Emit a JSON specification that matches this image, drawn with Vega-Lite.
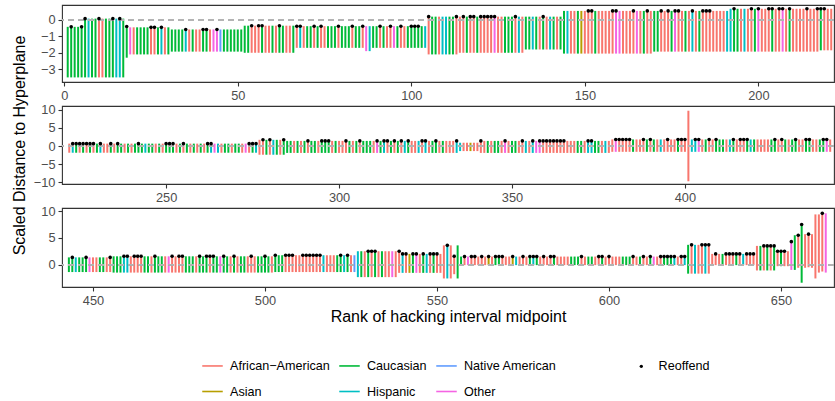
{
"$schema": "https://vega.github.io/schema/vega-lite/v6.json",
"background": "white",
"padding": {"left": 10, "top": 4, "right": 0, "bottom": 0},
"spacing": 24,
"bounds": "flush",
"data": {"values": [
{"r":1,"l":-3.5,"h":-0.42,"g":"C"},{"r":2,"l":-3.5,"h":-0.42,"g":"C","o":1},{"r":3,"l":-3.5,"h":-0.42,"g":"C"},{"r":4,"l":-3.5,"h":-0.42,"g":"C"},{"r":5,"l":-3.5,"h":-0.42,"g":"C","o":1},
{"r":6,"l":-3.5,"h":0.08,"g":"C","o":1},{"r":7,"l":-3.5,"h":0.08,"g":"H"},{"r":8,"l":-3.5,"h":0.08,"g":"C"},{"r":9,"l":-3.5,"h":0.08,"g":"C"},{"r":10,"l":-3.5,"h":0.08,"g":"A","o":1},
{"r":11,"l":-3.5,"h":0.08,"g":"A"},{"r":12,"l":-3.5,"h":0.08,"g":"C"},{"r":13,"l":-3.5,"h":0.08,"g":"C"},{"r":14,"l":-3.5,"h":0.08,"g":"C","o":1},{"r":15,"l":-3.5,"h":0.08,"g":"H"},
{"r":16,"l":-3.5,"h":0.08,"g":"H","o":1},{"r":17,"l":-3.5,"h":0.08,"g":"C"},{"r":18,"l":-2.3,"h":-0.4,"g":"C","o":1},{"r":19,"l":-2.1,"h":-0.45,"g":"O"},{"r":20,"l":-2.1,"h":-0.45,"g":"A"},
{"r":21,"l":-2.1,"h":-0.45,"g":"C"},{"r":22,"l":-2.1,"h":-0.45,"g":"C"},{"r":23,"l":-2.1,"h":-0.45,"g":"C"},{"r":24,"l":-2.1,"h":-0.45,"g":"C"},{"r":25,"l":-2.1,"h":-0.45,"g":"A","o":1},
{"r":26,"l":-2.1,"h":-0.45,"g":"A","o":1},{"r":27,"l":-2.1,"h":-0.45,"g":"C"},{"r":28,"l":-2.1,"h":-0.45,"g":"H","o":1},{"r":29,"l":-2.1,"h":-0.45,"g":"A"},{"r":30,"l":-2.1,"h":-0.45,"g":"C"},
{"r":31,"l":-1.93,"h":-0.58,"g":"C"},{"r":32,"l":-1.93,"h":-0.58,"g":"C"},{"r":33,"l":-1.93,"h":-0.58,"g":"C"},{"r":34,"l":-1.93,"h":-0.58,"g":"C"},{"r":35,"l":-1.93,"h":-0.58,"g":"H","o":1},
{"r":36,"l":-1.93,"h":-0.58,"g":"A"},{"r":37,"l":-1.93,"h":-0.58,"g":"C"},{"r":38,"l":-1.93,"h":-0.58,"g":"A"},{"r":39,"l":-1.93,"h":-0.58,"g":"A"},{"r":40,"l":-1.93,"h":-0.58,"g":"C","o":1},
{"r":41,"l":-1.93,"h":-0.58,"g":"C","o":1},{"r":42,"l":-1.93,"h":-0.58,"g":"A"},{"r":43,"l":-1.93,"h":-0.58,"g":"O"},{"r":44,"l":-1.93,"h":-0.58,"g":"O","o":1},{"r":45,"l":-1.93,"h":-0.58,"g":"N"},
{"r":46,"l":-1.93,"h":-0.58,"g":"C"},{"r":47,"l":-1.93,"h":-0.58,"g":"C"},{"r":48,"l":-1.93,"h":-0.58,"g":"C"},{"r":49,"l":-1.93,"h":-0.58,"g":"C"},{"r":50,"l":-1.93,"h":-0.58,"g":"C"},
{"r":51,"l":-1.93,"h":-0.58,"g":"C"},{"r":52,"l":-2.0,"h":-0.35,"g":"C"},{"r":53,"l":-2.0,"h":-0.35,"g":"C"},{"r":54,"l":-2.0,"h":-0.35,"g":"A","o":1},{"r":55,"l":-2.0,"h":-0.35,"g":"A"},
{"r":56,"l":-2.0,"h":-0.35,"g":"A","o":1},{"r":57,"l":-2.0,"h":-0.35,"g":"C","o":1},{"r":58,"l":-2.0,"h":-0.35,"g":"A"},{"r":59,"l":-2.0,"h":-0.35,"g":"A"},{"r":60,"l":-2.0,"h":-0.35,"g":"C"},
{"r":61,"l":-2.0,"h":-0.35,"g":"A"},{"r":62,"l":-2.0,"h":-0.35,"g":"C","o":1},{"r":63,"l":-2.0,"h":-0.35,"g":"C"},{"r":64,"l":-2.0,"h":-0.35,"g":"A"},{"r":65,"l":-2.0,"h":-0.35,"g":"A"},
{"r":66,"l":-2.0,"h":-0.35,"g":"C"},{"r":67,"l":-1.7,"h":-0.38,"g":"A","o":1},{"r":68,"l":-1.7,"h":-0.38,"g":"H","o":1},{"r":69,"l":-1.7,"h":-0.38,"g":"A"},{"r":70,"l":-1.7,"h":-0.38,"g":"C"},
{"r":71,"l":-1.7,"h":-0.38,"g":"C"},{"r":72,"l":-1.7,"h":-0.38,"g":"A","o":1},{"r":73,"l":-1.7,"h":-0.38,"g":"C"},{"r":74,"l":-1.7,"h":-0.38,"g":"A","o":1},{"r":75,"l":-1.7,"h":-0.38,"g":"A"},
{"r":76,"l":-1.7,"h":-0.38,"g":"C"},{"r":77,"l":-1.7,"h":-0.38,"g":"C"},{"r":78,"l":-1.7,"h":-0.38,"g":"C"},{"r":79,"l":-1.7,"h":-0.38,"g":"A","o":1},{"r":80,"l":-1.7,"h":-0.38,"g":"C"},
{"r":81,"l":-1.7,"h":-0.38,"g":"C"},{"r":82,"l":-1.7,"h":-0.38,"g":"C"},{"r":83,"l":-1.7,"h":-0.38,"g":"A","o":1},{"r":84,"l":-1.7,"h":-0.38,"g":"C"},{"r":85,"l":-1.7,"h":-0.38,"g":"C"},
{"r":86,"l":-1.7,"h":-0.38,"g":"A","o":1},{"r":87,"l":-1.9,"h":-0.38,"g":"O"},{"r":88,"l":-1.9,"h":-0.38,"g":"H"},{"r":89,"l":-1.7,"h":-0.38,"g":"C"},{"r":90,"l":-1.7,"h":-0.38,"g":"C"},
{"r":91,"l":-1.7,"h":-0.38,"g":"A","o":1},{"r":92,"l":-1.7,"h":-0.38,"g":"C"},{"r":93,"l":-1.7,"h":-0.38,"g":"A"},{"r":94,"l":-1.7,"h":-0.38,"g":"A","o":1},{"r":95,"l":-1.7,"h":-0.38,"g":"O"},
{"r":96,"l":-1.7,"h":-0.38,"g":"C"},{"r":97,"l":-1.7,"h":-0.38,"g":"A","o":1},{"r":98,"l":-1.7,"h":-0.38,"g":"A"},{"r":99,"l":-1.7,"h":-0.38,"g":"C"},{"r":100,"l":-1.7,"h":-0.38,"g":"C","o":1},
{"r":101,"l":-1.7,"h":-0.38,"g":"C","o":1},{"r":102,"l":-1.7,"h":-0.38,"g":"C","o":1},{"r":103,"l":-1.7,"h":-0.38,"g":"C"},{"r":104,"l":-1.7,"h":-0.38,"g":"H"},{"r":105,"l":-2.1,"h":0.2,"g":"A","o":1},
{"r":106,"l":-2.1,"h":0.2,"g":"C"},{"r":107,"l":-2.1,"h":0.2,"g":"C"},{"r":108,"l":-2.1,"h":0.2,"g":"A"},{"r":109,"l":-2.1,"h":0.2,"g":"H"},{"r":110,"l":-2.1,"h":0.2,"g":"H"},
{"r":111,"l":-2.1,"h":0.2,"g":"C"},{"r":112,"l":-2.1,"h":0.2,"g":"C"},{"r":113,"l":-2.1,"h":0.2,"g":"A","o":1},{"r":114,"l":-2.0,"h":0.2,"g":"A"},{"r":115,"l":-2.0,"h":0.2,"g":"A","o":1},
{"r":116,"l":-2.0,"h":0.2,"g":"C"},{"r":117,"l":-2.0,"h":0.2,"g":"A","o":1},{"r":118,"l":-2.0,"h":0.2,"g":"A","o":1},{"r":119,"l":-2.0,"h":0.2,"g":"C"},{"r":120,"l":-2.0,"h":0.2,"g":"A","o":1},
{"r":121,"l":-2.0,"h":0.2,"g":"A","o":1},{"r":122,"l":-2.0,"h":0.2,"g":"A","o":1},{"r":123,"l":-2.0,"h":0.2,"g":"A","o":1},{"r":124,"l":-2.0,"h":0.2,"g":"O","o":1},{"r":125,"l":-2.0,"h":0.2,"g":"A"},
{"r":126,"l":-2.0,"h":0.2,"g":"A"},{"r":127,"l":-2.0,"h":0.2,"g":"C"},{"r":128,"l":-2.0,"h":0.2,"g":"C"},{"r":129,"l":-2.0,"h":0.2,"g":"C"},{"r":130,"l":-2.0,"h":0.2,"g":"A","o":1},
{"r":131,"l":-2.0,"h":0.2,"g":"H"},{"r":132,"l":-2.0,"h":0.2,"g":"A"},{"r":133,"l":-1.8,"h":0.2,"g":"C"},{"r":134,"l":-1.8,"h":0.2,"g":"C"},{"r":135,"l":-1.8,"h":0.2,"g":"H"},
{"r":136,"l":-1.8,"h":0.2,"g":"C"},{"r":137,"l":-1.8,"h":0.2,"g":"A"},{"r":138,"l":-1.8,"h":0.2,"g":"C","o":1},{"r":139,"l":-1.8,"h":0.2,"g":"A"},{"r":140,"l":-1.8,"h":0.2,"g":"H"},
{"r":141,"l":-1.8,"h":0.2,"g":"C"},{"r":142,"l":-1.8,"h":0.2,"g":"A"},{"r":143,"l":-1.8,"h":0.2,"g":"C"},{"r":144,"l":-2.05,"h":0.55,"g":"C"},{"r":145,"l":-2.05,"h":0.55,"g":"H"},
{"r":146,"l":-2.05,"h":0.55,"g":"A"},{"r":147,"l":-2.05,"h":0.55,"g":"A"},{"r":148,"l":-2.05,"h":0.55,"g":"C"},{"r":149,"l":-2.05,"h":0.55,"g":"S"},{"r":150,"l":-2.05,"h":0.55,"g":"A"},
{"r":151,"l":-2.05,"h":0.55,"g":"A","o":1},{"r":152,"l":-2.05,"h":0.55,"g":"A","o":1},{"r":153,"l":-2.05,"h":0.55,"g":"C"},{"r":154,"l":-2.05,"h":0.55,"g":"A"},{"r":155,"l":-2.05,"h":0.55,"g":"A"},
{"r":156,"l":-2.05,"h":0.55,"g":"A"},{"r":157,"l":-2.05,"h":0.55,"g":"A"},{"r":158,"l":-2.05,"h":0.55,"g":"A","o":1},{"r":159,"l":-2.05,"h":0.55,"g":"O","o":1},{"r":160,"l":-2.05,"h":0.55,"g":"O"},
{"r":161,"l":-2.05,"h":0.55,"g":"A"},{"r":162,"l":-2.05,"h":0.55,"g":"A"},{"r":163,"l":-2.05,"h":0.55,"g":"A"},{"r":164,"l":-2.05,"h":0.55,"g":"A","o":1},{"r":165,"l":-2.05,"h":0.55,"g":"O"},
{"r":166,"l":-2.05,"h":0.55,"g":"A"},{"r":167,"l":-2.05,"h":0.55,"g":"C"},{"r":168,"l":-2.05,"h":0.55,"g":"A","o":1},{"r":169,"l":-2.05,"h":0.55,"g":"A"},{"r":170,"l":-1.93,"h":0.55,"g":"C"},
{"r":171,"l":-1.93,"h":0.55,"g":"C"},{"r":172,"l":-1.93,"h":0.55,"g":"A","o":1},{"r":173,"l":-1.93,"h":0.55,"g":"A"},{"r":174,"l":-1.93,"h":0.55,"g":"A","o":1},{"r":175,"l":-1.93,"h":0.55,"g":"C"},
{"r":176,"l":-1.93,"h":0.55,"g":"O","o":1},{"r":177,"l":-1.93,"h":0.55,"g":"A","o":1},{"r":178,"l":-1.93,"h":0.55,"g":"A"},{"r":179,"l":-1.93,"h":0.55,"g":"C"},{"r":180,"l":-1.93,"h":0.55,"g":"A"},
{"r":181,"l":-1.93,"h":0.55,"g":"H","o":1},{"r":182,"l":-1.93,"h":0.55,"g":"A"},{"r":183,"l":-1.93,"h":0.55,"g":"C"},{"r":184,"l":-1.93,"h":0.55,"g":"A","o":1},{"r":185,"l":-1.93,"h":0.55,"g":"A","o":1},
{"r":186,"l":-1.93,"h":0.55,"g":"A","o":1},{"r":187,"l":-1.93,"h":0.55,"g":"A"},{"r":188,"l":-1.93,"h":0.55,"g":"A"},{"r":189,"l":-1.93,"h":0.55,"g":"A"},{"r":190,"l":-1.93,"h":0.55,"g":"A"},
{"r":191,"l":-1.93,"h":0.55,"g":"H"},{"r":192,"l":-1.93,"h":0.68,"g":"H"},{"r":193,"l":-1.93,"h":0.68,"g":"C","o":1},{"r":194,"l":-1.93,"h":0.68,"g":"C"},{"r":195,"l":-1.93,"h":0.68,"g":"A"},
{"r":196,"l":-1.93,"h":0.68,"g":"H"},{"r":197,"l":-1.93,"h":0.68,"g":"A"},{"r":198,"l":-1.93,"h":0.68,"g":"A","o":1},{"r":199,"l":-1.93,"h":0.68,"g":"C"},{"r":200,"l":-1.93,"h":0.68,"g":"O","o":1},
{"r":201,"l":-1.93,"h":0.68,"g":"A"},{"r":202,"l":-1.93,"h":0.68,"g":"A"},{"r":203,"l":-1.93,"h":0.68,"g":"A","o":1},{"r":204,"l":-1.93,"h":0.68,"g":"C","o":1},{"r":205,"l":-1.93,"h":0.68,"g":"A"},
{"r":206,"l":-1.93,"h":0.68,"g":"A","o":1},{"r":207,"l":-1.93,"h":0.68,"g":"O","o":1},{"r":208,"l":-1.93,"h":0.68,"g":"A"},{"r":209,"l":-1.93,"h":0.68,"g":"C","o":1},{"r":210,"l":-1.93,"h":0.68,"g":"A"},
{"r":211,"l":-1.93,"h":0.68,"g":"A"},{"r":212,"l":-1.93,"h":0.68,"g":"A"},{"r":213,"l":-1.93,"h":0.68,"g":"A"},{"r":214,"l":-1.93,"h":0.68,"g":"A","o":1},{"r":215,"l":-1.93,"h":0.68,"g":"A"},
{"r":216,"l":-1.93,"h":0.68,"g":"A"},{"r":217,"l":-1.93,"h":0.68,"g":"A","o":1},{"r":218,"l":-1.85,"h":0.68,"g":"C","o":1},{"r":219,"l":-1.85,"h":0.68,"g":"A","o":1},{"r":220,"l":-1.85,"h":0.68,"g":"A"},
{"r":221,"l":-1.85,"h":0.68,"g":"A"},
{"r":222,"l":-1.85,"h":0.65,"g":"A"},{"r":223,"l":-1.85,"h":0.65,"g":"H","o":1},{"r":224,"l":-1.85,"h":0.65,"g":"C","o":1},{"r":225,"l":-1.85,"h":0.65,"g":"A","o":1},{"r":226,"l":-1.85,"h":0.65,"g":"C","o":1},
{"r":227,"l":-1.85,"h":0.65,"g":"A","o":1},{"r":228,"l":-1.85,"h":0.65,"g":"C","o":1},{"r":229,"l":-1.85,"h":0.65,"g":"A","o":1},{"r":230,"l":-1.85,"h":0.65,"g":"C"},{"r":231,"l":-1.85,"h":0.65,"g":"H","o":1},
{"r":232,"l":-1.85,"h":0.65,"g":"A"},{"r":233,"l":-1.85,"h":0.65,"g":"A"},{"r":234,"l":-1.85,"h":0.65,"g":"C","o":1},{"r":235,"l":-1.85,"h":0.65,"g":"A"},{"r":236,"l":-1.85,"h":0.65,"g":"C","o":1},
{"r":237,"l":-1.85,"h":0.65,"g":"C"},{"r":238,"l":-1.85,"h":0.65,"g":"A"},{"r":239,"l":-1.85,"h":0.65,"g":"C"},{"r":240,"l":-1.85,"h":0.65,"g":"A"},{"r":241,"l":-1.85,"h":0.65,"g":"C"},
{"r":242,"l":-1.85,"h":0.65,"g":"C","o":1},{"r":243,"l":-1.85,"h":0.65,"g":"C"},{"r":244,"l":-1.85,"h":0.65,"g":"H"},{"r":245,"l":-1.85,"h":0.65,"g":"C"},{"r":246,"l":-1.85,"h":0.65,"g":"C"},
{"r":247,"l":-1.85,"h":0.65,"g":"A"},{"r":248,"l":-1.85,"h":0.65,"g":"C"},{"r":249,"l":-1.85,"h":0.65,"g":"A"},{"r":250,"l":-1.85,"h":0.65,"g":"C","o":1},{"r":251,"l":-1.85,"h":0.65,"g":"C","o":1},
{"r":252,"l":-1.85,"h":0.65,"g":"C","o":1},{"r":253,"l":-1.85,"h":0.65,"g":"A"},{"r":254,"l":-1.85,"h":0.65,"g":"C"},{"r":255,"l":-1.85,"h":0.65,"g":"A","o":1},{"r":256,"l":-1.85,"h":0.65,"g":"C"},
{"r":257,"l":-1.85,"h":0.65,"g":"A"},{"r":258,"l":-1.85,"h":0.65,"g":"C"},{"r":259,"l":-1.85,"h":0.65,"g":"A"},{"r":260,"l":-1.85,"h":0.65,"g":"C"},{"r":261,"l":-1.85,"h":0.65,"g":"A"},
{"r":262,"l":-1.85,"h":0.65,"g":"C","o":1},{"r":263,"l":-1.85,"h":0.65,"g":"H","o":1},{"r":264,"l":-1.85,"h":0.65,"g":"O"},{"r":265,"l":-1.85,"h":0.65,"g":"H"},{"r":266,"l":-1.85,"h":0.65,"g":"A"},
{"r":267,"l":-1.85,"h":0.65,"g":"C"},{"r":268,"l":-1.85,"h":0.65,"g":"C"},{"r":269,"l":-1.85,"h":0.65,"g":"A"},{"r":270,"l":-1.85,"h":0.65,"g":"C"},{"r":271,"l":-1.85,"h":0.65,"g":"C"},
{"r":272,"l":-1.85,"h":0.65,"g":"A"},{"r":273,"l":-1.85,"h":0.65,"g":"O"},{"r":274,"l":-1.85,"h":0.65,"g":"A","o":1},{"r":275,"l":-1.85,"h":0.65,"g":"C","o":1},{"r":276,"l":-1.85,"h":0.65,"g":"H","o":1},
{"r":277,"l":-2.4,"h":1.7,"g":"A"},{"r":278,"l":-2.4,"h":1.7,"g":"A","o":1},{"r":279,"l":-2.4,"h":1.7,"g":"C"},{"r":280,"l":-2.4,"h":1.7,"g":"A","o":1},{"r":281,"l":-2.4,"h":1.7,"g":"H"},
{"r":282,"l":-2.4,"h":1.7,"g":"C"},{"r":283,"l":-2.4,"h":1.7,"g":"A"},{"r":284,"l":-2.4,"h":1.7,"g":"C","o":1},{"r":285,"l":-1.9,"h":1.4,"g":"C"},{"r":286,"l":-1.9,"h":1.4,"g":"C"},
{"r":287,"l":-1.9,"h":1.4,"g":"A"},{"r":288,"l":-1.9,"h":1.4,"g":"C"},{"r":289,"l":-1.9,"h":1.4,"g":"A"},{"r":290,"l":-1.9,"h":1.4,"g":"C"},{"r":291,"l":-1.9,"h":1.4,"g":"A","o":1},
{"r":292,"l":-1.9,"h":1.4,"g":"C"},{"r":293,"l":-1.9,"h":1.4,"g":"C"},{"r":294,"l":-1.9,"h":1.4,"g":"A"},{"r":295,"l":-1.9,"h":1.4,"g":"C","o":1},{"r":296,"l":-1.9,"h":1.4,"g":"C","o":1},
{"r":297,"l":-1.9,"h":1.4,"g":"C","o":1},{"r":298,"l":-1.9,"h":1.4,"g":"A"},{"r":299,"l":-1.9,"h":1.4,"g":"C"},{"r":300,"l":-1.9,"h":1.4,"g":"A"},{"r":301,"l":-1.9,"h":1.4,"g":"A"},
{"r":302,"l":-1.9,"h":1.4,"g":"A","o":1},{"r":303,"l":-1.9,"h":1.4,"g":"C"},{"r":304,"l":-1.9,"h":1.4,"g":"A"},{"r":305,"l":-1.9,"h":1.4,"g":"C"},{"r":306,"l":-1.9,"h":1.4,"g":"A","o":1},
{"r":307,"l":-1.9,"h":1.4,"g":"C"},{"r":308,"l":-1.9,"h":1.4,"g":"C"},{"r":309,"l":-1.9,"h":1.4,"g":"C"},{"r":310,"l":-1.9,"h":1.4,"g":"A"},{"r":311,"l":-1.9,"h":1.4,"g":"O","o":1},
{"r":312,"l":-1.9,"h":1.4,"g":"C"},{"r":313,"l":-1.9,"h":1.4,"g":"H","o":1},{"r":314,"l":-1.9,"h":1.4,"g":"A","o":1},{"r":315,"l":-1.9,"h":1.4,"g":"C"},{"r":316,"l":-1.9,"h":1.4,"g":"A","o":1},
{"r":317,"l":-1.9,"h":1.4,"g":"C"},{"r":318,"l":-1.9,"h":1.4,"g":"A","o":1},{"r":319,"l":-1.9,"h":1.4,"g":"H"},{"r":320,"l":-1.9,"h":1.4,"g":"C","o":1},{"r":321,"l":-1.9,"h":1.4,"g":"A"},
{"r":322,"l":-1.9,"h":1.4,"g":"A"},{"r":323,"l":-1.9,"h":1.4,"g":"H"},{"r":324,"l":-1.9,"h":1.4,"g":"A","o":1},{"r":325,"l":-1.9,"h":1.4,"g":"H","o":1},{"r":326,"l":-1.9,"h":1.4,"g":"A"},
{"r":327,"l":-1.9,"h":1.4,"g":"C"},{"r":328,"l":-1.9,"h":1.4,"g":"C","o":1},{"r":329,"l":-1.9,"h":1.4,"g":"A"},{"r":330,"l":-1.9,"h":1.4,"g":"C"},{"r":331,"l":-1.9,"h":1.4,"g":"A"},
{"r":332,"l":-1.9,"h":1.4,"g":"A"},{"r":333,"l":-1.9,"h":1.4,"g":"A"},{"r":334,"l":-1.9,"h":1.4,"g":"H","o":1},{"r":335,"l":-1.4,"h":0.9,"g":"H"},{"r":336,"l":-1.4,"h":0.9,"g":"A"},
{"r":337,"l":-1.4,"h":0.9,"g":"A"},{"r":338,"l":-1.4,"h":0.9,"g":"S"},{"r":339,"l":-1.4,"h":0.9,"g":"A"},{"r":340,"l":-1.4,"h":0.9,"g":"A"},{"r":341,"l":-1.9,"h":1.4,"g":"A","o":1},
{"r":342,"l":-1.9,"h":1.4,"g":"A"},{"r":343,"l":-1.9,"h":1.4,"g":"C"},{"r":344,"l":-1.9,"h":1.4,"g":"A"},{"r":345,"l":-1.9,"h":1.4,"g":"C"},{"r":346,"l":-1.9,"h":1.4,"g":"C"},
{"r":347,"l":-1.9,"h":1.4,"g":"A"},{"r":348,"l":-1.9,"h":1.4,"g":"O","o":1},{"r":349,"l":-1.9,"h":1.4,"g":"A"},{"r":350,"l":-1.9,"h":1.4,"g":"C"},{"r":351,"l":-1.9,"h":1.4,"g":"C"},
{"r":352,"l":-1.9,"h":1.4,"g":"A"},{"r":353,"l":-1.9,"h":1.4,"g":"A","o":1},{"r":354,"l":-1.9,"h":1.4,"g":"H"},{"r":355,"l":-1.9,"h":1.4,"g":"A"},{"r":356,"l":-1.9,"h":1.4,"g":"H","o":1},
{"r":357,"l":-1.9,"h":1.4,"g":"O"},{"r":358,"l":-1.9,"h":1.4,"g":"O","o":1},{"r":359,"l":-1.9,"h":1.4,"g":"A","o":1},{"r":360,"l":-1.9,"h":1.4,"g":"A","o":1},{"r":361,"l":-1.9,"h":1.4,"g":"A","o":1},
{"r":362,"l":-1.9,"h":1.4,"g":"A","o":1},{"r":363,"l":-1.9,"h":1.4,"g":"A","o":1},{"r":364,"l":-1.9,"h":1.4,"g":"A","o":1},{"r":365,"l":-1.9,"h":1.4,"g":"A","o":1},{"r":366,"l":-1.9,"h":1.4,"g":"A"},
{"r":367,"l":-1.9,"h":1.4,"g":"A"},{"r":368,"l":-1.9,"h":1.4,"g":"A"},{"r":369,"l":-1.9,"h":1.4,"g":"C"},{"r":370,"l":-1.9,"h":1.4,"g":"C"},{"r":371,"l":-1.9,"h":1.4,"g":"A"},
{"r":372,"l":-1.9,"h":1.4,"g":"H","o":1},{"r":373,"l":-1.9,"h":1.4,"g":"H","o":1},{"r":374,"l":-1.9,"h":1.4,"g":"C"},{"r":375,"l":-1.9,"h":1.4,"g":"C"},{"r":376,"l":-1.9,"h":1.4,"g":"A"},
{"r":377,"l":-1.9,"h":1.4,"g":"H"},{"r":378,"l":-1.9,"h":1.4,"g":"A"},{"r":379,"l":-1.6,"h":1.8,"g":"A"},{"r":380,"l":-1.6,"h":1.8,"g":"O","o":1},{"r":381,"l":-1.6,"h":1.8,"g":"A","o":1},
{"r":382,"l":-1.6,"h":1.8,"g":"A","o":1},{"r":383,"l":-1.6,"h":1.8,"g":"A","o":1},{"r":384,"l":-1.6,"h":1.8,"g":"A","o":1},{"r":385,"l":-1.6,"h":1.8,"g":"C"},{"r":386,"l":-1.6,"h":1.8,"g":"A"},
{"r":387,"l":-1.6,"h":1.8,"g":"A"},{"r":388,"l":-1.6,"h":1.8,"g":"A","o":1},{"r":389,"l":-1.6,"h":1.8,"g":"C"},{"r":390,"l":-1.6,"h":1.8,"g":"A","o":1},{"r":391,"l":-1.6,"h":1.8,"g":"C"},
{"r":392,"l":-1.6,"h":1.8,"g":"A"},{"r":393,"l":-1.6,"h":1.8,"g":"H"},{"r":394,"l":-1.6,"h":1.8,"g":"A"},{"r":395,"l":-1.6,"h":1.8,"g":"A","o":1},{"r":396,"l":-1.6,"h":1.8,"g":"A"},
{"r":397,"l":-1.6,"h":1.8,"g":"A"},{"r":398,"l":-1.6,"h":1.8,"g":"C","o":1},{"r":399,"l":-1.6,"h":1.8,"g":"A","o":1},{"r":400,"l":-1.6,"h":1.8,"g":"A","o":1},{"r":401,"l":-9.7,"h":9.7,"g":"A"},
{"r":402,"l":-1.6,"h":1.8,"g":"H"},{"r":403,"l":-1.6,"h":1.8,"g":"H","o":1},{"r":404,"l":-1.6,"h":1.8,"g":"O","o":1},{"r":405,"l":-1.6,"h":1.8,"g":"A"},{"r":406,"l":-1.6,"h":1.8,"g":"C"},
{"r":407,"l":-1.6,"h":1.8,"g":"A","o":1},{"r":408,"l":-1.6,"h":1.8,"g":"A"},{"r":409,"l":-1.6,"h":1.8,"g":"C","o":1},{"r":410,"l":-1.6,"h":1.8,"g":"C"},{"r":411,"l":-1.6,"h":1.8,"g":"C"},
{"r":412,"l":-1.6,"h":1.8,"g":"A"},{"r":413,"l":-1.6,"h":1.8,"g":"H"},{"r":414,"l":-1.6,"h":1.8,"g":"C","o":1},{"r":415,"l":-1.6,"h":1.8,"g":"A"},{"r":416,"l":-1.6,"h":1.8,"g":"A","o":1},
{"r":417,"l":-1.6,"h":1.8,"g":"A","o":1},{"r":418,"l":-1.6,"h":1.8,"g":"C","o":1},{"r":419,"l":-1.6,"h":1.8,"g":"H"},{"r":420,"l":-1.6,"h":1.8,"g":"C"},{"r":421,"l":-1.6,"h":1.8,"g":"A"},
{"r":422,"l":-1.6,"h":1.8,"g":"A"},{"r":423,"l":-1.6,"h":1.8,"g":"A"},{"r":424,"l":-1.6,"h":1.8,"g":"A"},{"r":425,"l":-1.6,"h":1.8,"g":"C"},{"r":426,"l":-1.6,"h":1.8,"g":"C","o":1},
{"r":427,"l":-1.6,"h":1.8,"g":"A"},{"r":428,"l":-1.6,"h":1.8,"g":"A","o":1},{"r":429,"l":-1.6,"h":1.8,"g":"C"},{"r":430,"l":-1.6,"h":1.8,"g":"A"},{"r":431,"l":-1.6,"h":1.8,"g":"C"},
{"r":432,"l":-1.6,"h":1.8,"g":"C","o":1},{"r":433,"l":-1.6,"h":1.8,"g":"A"},{"r":434,"l":-1.6,"h":1.8,"g":"A"},{"r":435,"l":-1.6,"h":1.8,"g":"C","o":1},{"r":436,"l":-1.6,"h":1.8,"g":"C","o":1},
{"r":437,"l":-1.6,"h":1.8,"g":"A"},{"r":438,"l":-1.6,"h":1.8,"g":"A"},{"r":439,"l":-1.6,"h":1.8,"g":"C"},{"r":440,"l":-1.6,"h":1.8,"g":"C","o":1},{"r":441,"l":-1.6,"h":1.8,"g":"O","o":1},
{"r":442,"l":-1.6,"h":1.8,"g":"A"},
{"r":443,"l":-1.4,"h":1.35,"g":"C"},{"r":444,"l":-1.4,"h":1.35,"g":"C","o":1},{"r":445,"l":-1.4,"h":1.35,"g":"H"},{"r":446,"l":-1.4,"h":1.35,"g":"C"},{"r":447,"l":-1.4,"h":1.35,"g":"C"},
{"r":448,"l":-1.4,"h":1.35,"g":"C","o":1},{"r":449,"l":-1.4,"h":1.35,"g":"O"},{"r":450,"l":-1.4,"h":1.35,"g":"A"},{"r":451,"l":-1.4,"h":1.35,"g":"A"},{"r":452,"l":-1.4,"h":1.35,"g":"C"},
{"r":453,"l":-1.4,"h":1.35,"g":"C"},{"r":454,"l":-1.4,"h":1.35,"g":"A"},{"r":455,"l":-1.4,"h":1.35,"g":"A","o":1},{"r":456,"l":-1.5,"h":1.55,"g":"C"},{"r":457,"l":-1.5,"h":1.55,"g":"C"},
{"r":458,"l":-1.5,"h":1.55,"g":"C"},{"r":459,"l":-1.5,"h":1.55,"g":"H","o":1},{"r":460,"l":-1.5,"h":1.55,"g":"H","o":1},{"r":461,"l":-1.5,"h":1.55,"g":"A"},{"r":462,"l":-1.5,"h":1.55,"g":"A","o":1},
{"r":463,"l":-1.5,"h":1.55,"g":"A","o":1},{"r":464,"l":-1.5,"h":1.55,"g":"A","o":1},{"r":465,"l":-1.5,"h":1.55,"g":"C"},{"r":466,"l":-1.5,"h":1.55,"g":"C"},{"r":467,"l":-1.5,"h":1.55,"g":"A"},
{"r":468,"l":-1.5,"h":1.55,"g":"C","o":1},{"r":469,"l":-1.5,"h":1.55,"g":"C"},{"r":470,"l":-1.5,"h":1.55,"g":"C"},{"r":471,"l":-1.5,"h":1.55,"g":"A"},{"r":472,"l":-1.5,"h":1.55,"g":"O"},
{"r":473,"l":-1.5,"h":1.55,"g":"A","o":1},{"r":474,"l":-1.5,"h":1.55,"g":"A"},{"r":475,"l":-1.5,"h":1.55,"g":"A","o":1},{"r":476,"l":-1.5,"h":1.55,"g":"A","o":1},{"r":477,"l":-1.5,"h":1.55,"g":"C"},
{"r":478,"l":-1.5,"h":1.55,"g":"C"},{"r":479,"l":-1.5,"h":1.55,"g":"C"},{"r":480,"l":-1.5,"h":1.55,"g":"A"},{"r":481,"l":-1.5,"h":1.55,"g":"C","o":1},{"r":482,"l":-1.5,"h":1.55,"g":"C"},
{"r":483,"l":-1.5,"h":1.55,"g":"C","o":1},{"r":484,"l":-1.5,"h":1.55,"g":"A","o":1},{"r":485,"l":-1.5,"h":1.55,"g":"C","o":1},{"r":486,"l":-1.5,"h":1.55,"g":"C"},{"r":487,"l":-1.5,"h":1.55,"g":"O"},
{"r":488,"l":-1.5,"h":1.55,"g":"C","o":1},{"r":489,"l":-1.5,"h":1.55,"g":"C"},{"r":490,"l":-1.5,"h":1.55,"g":"A"},{"r":491,"l":-1.5,"h":1.55,"g":"C","o":1},{"r":492,"l":-1.5,"h":1.55,"g":"A"},
{"r":493,"l":-1.5,"h":1.55,"g":"C"},{"r":494,"l":-1.5,"h":1.55,"g":"C"},{"r":495,"l":-1.5,"h":1.55,"g":"A"},{"r":496,"l":-1.5,"h":1.55,"g":"A","o":1},{"r":497,"l":-1.5,"h":1.55,"g":"A"},
{"r":498,"l":-1.5,"h":1.55,"g":"C"},{"r":499,"l":-1.5,"h":1.55,"g":"C"},{"r":500,"l":-1.5,"h":1.55,"g":"C","o":1},{"r":501,"l":-1.5,"h":1.55,"g":"C"},{"r":502,"l":-1.5,"h":1.55,"g":"A"},
{"r":503,"l":-1.4,"h":1.75,"g":"C","o":1},{"r":504,"l":-1.4,"h":1.75,"g":"C"},{"r":505,"l":-1.4,"h":1.75,"g":"C"},{"r":506,"l":-1.4,"h":1.75,"g":"A","o":1},{"r":507,"l":-1.4,"h":1.75,"g":"A","o":1},
{"r":508,"l":-1.4,"h":1.75,"g":"A","o":1},{"r":509,"l":-1.4,"h":1.75,"g":"A"},{"r":510,"l":-1.4,"h":1.75,"g":"A"},{"r":511,"l":-1.4,"h":1.75,"g":"A","o":1},{"r":512,"l":-1.4,"h":1.75,"g":"A","o":1},
{"r":513,"l":-1.4,"h":1.75,"g":"A","o":1},{"r":514,"l":-1.4,"h":1.75,"g":"A","o":1},{"r":515,"l":-1.4,"h":1.75,"g":"A","o":1},{"r":516,"l":-1.4,"h":1.75,"g":"A","o":1},{"r":517,"l":-1.4,"h":1.75,"g":"H"},
{"r":518,"l":-1.4,"h":1.75,"g":"A"},{"r":519,"l":-1.4,"h":1.75,"g":"A"},{"r":520,"l":-1.4,"h":1.75,"g":"A"},{"r":521,"l":-1.4,"h":1.75,"g":"C"},{"r":522,"l":-1.4,"h":1.75,"g":"C","o":1},
{"r":523,"l":-1.4,"h":1.75,"g":"H"},{"r":524,"l":-1.4,"h":1.75,"g":"C","o":1},{"r":525,"l":-1.4,"h":1.75,"g":"A"},{"r":526,"l":-1.4,"h":1.75,"g":"N"},{"r":527,"l":-2.35,"h":2.5,"g":"H"},
{"r":528,"l":-2.35,"h":2.5,"g":"C"},{"r":529,"l":-2.35,"h":2.5,"g":"A"},{"r":530,"l":-2.35,"h":2.5,"g":"C","o":1},{"r":531,"l":-2.35,"h":2.5,"g":"A","o":1},{"r":532,"l":-2.35,"h":2.5,"g":"C","o":1},
{"r":533,"l":-2.35,"h":2.5,"g":"A"},{"r":534,"l":-2.35,"h":2.5,"g":"C"},{"r":535,"l":-2.35,"h":2.5,"g":"A"},{"r":536,"l":-2.35,"h":2.5,"g":"A"},{"r":537,"l":-2.35,"h":2.5,"g":"O"},
{"r":538,"l":-2.35,"h":2.5,"g":"A"},{"r":539,"l":-1.55,"h":2.5,"g":"A","o":1},{"r":540,"l":-1.55,"h":2.0,"g":"H","o":1},{"r":541,"l":-1.55,"h":2.0,"g":"A","o":1},{"r":542,"l":-1.55,"h":2.0,"g":"S"},
{"r":543,"l":-1.55,"h":2.0,"g":"C","o":1},{"r":544,"l":-1.55,"h":2.0,"g":"O","o":1},{"r":545,"l":-1.55,"h":2.0,"g":"A"},{"r":546,"l":-1.55,"h":2.0,"g":"C","o":1},{"r":547,"l":-1.55,"h":2.0,"g":"H"},
{"r":548,"l":-1.55,"h":2.0,"g":"A","o":1},{"r":549,"l":-1.55,"h":2.0,"g":"C","o":1},{"r":550,"l":-1.55,"h":2.0,"g":"A","o":1},{"r":551,"l":-1.55,"h":2.0,"g":"A"},{"r":552,"l":-2.6,"h":3.6,"g":"A"},
{"r":553,"l":-2.6,"h":3.6,"g":"H","o":1},{"r":554,"l":-2.6,"h":3.6,"g":"A"},{"r":555,"l":-1.8,"h":1.55,"g":"A","o":1},{"r":556,"l":-2.6,"h":3.6,"g":"C"},{"r":557,"l":-0.1,"h":1.5,"g":"C"},
{"r":558,"l":-0.1,"h":1.5,"g":"A","o":1},{"r":559,"l":-0.1,"h":1.5,"g":"O"},{"r":560,"l":-0.1,"h":1.5,"g":"A","o":1},{"r":561,"l":-0.1,"h":1.5,"g":"A","o":1},{"r":562,"l":-0.1,"h":1.5,"g":"A"},
{"r":563,"l":-0.1,"h":1.5,"g":"A","o":1},{"r":564,"l":-0.1,"h":1.5,"g":"A"},{"r":565,"l":-0.1,"h":1.5,"g":"S","o":1},{"r":566,"l":-0.1,"h":1.5,"g":"A"},{"r":567,"l":-0.1,"h":1.5,"g":"C","o":1},
{"r":568,"l":-0.1,"h":1.5,"g":"C","o":1},{"r":569,"l":-0.1,"h":1.5,"g":"A","o":1},{"r":570,"l":-0.1,"h":1.5,"g":"A"},{"r":571,"l":-0.1,"h":1.5,"g":"A"},{"r":572,"l":-0.1,"h":1.5,"g":"S","o":1},
{"r":573,"l":-0.1,"h":1.5,"g":"H"},{"r":574,"l":-0.1,"h":1.5,"g":"A"},{"r":575,"l":-0.1,"h":1.5,"g":"A","o":1},{"r":576,"l":-0.1,"h":1.5,"g":"A"},{"r":577,"l":-0.1,"h":1.5,"g":"C","o":1},
{"r":578,"l":-0.1,"h":1.5,"g":"H","o":1},{"r":579,"l":-0.1,"h":1.5,"g":"C","o":1},{"r":580,"l":-0.1,"h":1.5,"g":"A"},{"r":581,"l":-0.1,"h":1.5,"g":"A","o":1},{"r":582,"l":-0.1,"h":1.5,"g":"A"},
{"r":583,"l":-0.1,"h":1.5,"g":"A","o":1},{"r":584,"l":-0.1,"h":1.5,"g":"C","o":1},{"r":585,"l":-0.1,"h":1.5,"g":"A"},{"r":586,"l":-0.1,"h":1.5,"g":"A"},{"r":587,"l":-0.1,"h":1.5,"g":"A"},
{"r":588,"l":-0.1,"h":1.5,"g":"A"},{"r":589,"l":-0.1,"h":1.5,"g":"C"},{"r":590,"l":-0.1,"h":1.5,"g":"C"},{"r":591,"l":-0.1,"h":1.5,"g":"C"},{"r":592,"l":-0.1,"h":1.5,"g":"A","o":1},
{"r":593,"l":-0.1,"h":1.5,"g":"A"},{"r":594,"l":-0.1,"h":1.5,"g":"C"},{"r":595,"l":-0.1,"h":1.5,"g":"C"},{"r":596,"l":-0.1,"h":1.5,"g":"A"},{"r":597,"l":-0.1,"h":1.5,"g":"A","o":1},
{"r":598,"l":-0.1,"h":1.5,"g":"C","o":1},{"r":599,"l":-0.1,"h":1.5,"g":"A"},{"r":600,"l":-0.1,"h":1.5,"g":"A","o":1},{"r":601,"l":-0.1,"h":1.5,"g":"A"},{"r":602,"l":-0.1,"h":1.5,"g":"A"},
{"r":603,"l":-0.1,"h":1.5,"g":"A"},{"r":604,"l":-0.1,"h":1.5,"g":"C"},{"r":605,"l":-0.1,"h":1.5,"g":"C"},{"r":606,"l":-0.1,"h":1.5,"g":"C"},{"r":607,"l":-0.1,"h":1.5,"g":"A","o":1},
{"r":608,"l":-0.1,"h":1.5,"g":"A"},{"r":609,"l":-0.1,"h":1.5,"g":"C"},{"r":610,"l":-0.1,"h":1.5,"g":"A","o":1},{"r":611,"l":-0.1,"h":1.5,"g":"A"},{"r":612,"l":-0.1,"h":1.5,"g":"C","o":1},
{"r":613,"l":-0.1,"h":1.5,"g":"O"},{"r":614,"l":-0.1,"h":1.5,"g":"A"},{"r":615,"l":-0.1,"h":1.5,"g":"A","o":1},{"r":616,"l":-0.1,"h":1.5,"g":"C","o":1},{"r":617,"l":-0.1,"h":1.5,"g":"C","o":1},
{"r":618,"l":-0.1,"h":1.5,"g":"C","o":1},{"r":619,"l":-0.1,"h":1.5,"g":"H","o":1},{"r":620,"l":-0.1,"h":1.5,"g":"A"},{"r":621,"l":-0.1,"h":1.5,"g":"A","o":1},{"r":622,"l":-0.1,"h":1.5,"g":"H","o":1},
{"r":623,"l":-1.7,"h":3.7,"g":"C"},{"r":624,"l":-1.7,"h":3.7,"g":"A","o":1},{"r":625,"l":-1.7,"h":3.7,"g":"H"},{"r":626,"l":-1.7,"h":3.7,"g":"A"},{"r":627,"l":-1.7,"h":3.7,"g":"A","o":1},
{"r":628,"l":-1.7,"h":3.7,"g":"H","o":1},{"r":629,"l":-1.7,"h":3.7,"g":"A","o":1},{"r":630,"l":-0.1,"h":2.0,"g":"A"},{"r":631,"l":-0.1,"h":2.0,"g":"A","o":1},{"r":632,"l":-0.1,"h":2.0,"g":"A"},
{"r":633,"l":-0.1,"h":2.0,"g":"C"},{"r":634,"l":-0.1,"h":2.0,"g":"A","o":1},{"r":635,"l":-0.1,"h":2.0,"g":"A","o":1},{"r":636,"l":-0.1,"h":2.0,"g":"A","o":1},{"r":637,"l":-0.1,"h":2.0,"g":"C","o":1},
{"r":638,"l":-0.1,"h":2.0,"g":"A","o":1},{"r":639,"l":-0.1,"h":2.0,"g":"H"},{"r":640,"l":-0.1,"h":2.0,"g":"A","o":1},{"r":641,"l":-0.1,"h":2.0,"g":"A","o":1},{"r":642,"l":-0.1,"h":2.0,"g":"A","o":1},
{"r":643,"l":-1.1,"h":3.5,"g":"A"},{"r":644,"l":-1.1,"h":3.5,"g":"C"},{"r":645,"l":-1.1,"h":3.5,"g":"A","o":1},{"r":646,"l":-1.1,"h":3.5,"g":"C","o":1},{"r":647,"l":-1.1,"h":3.5,"g":"A","o":1},
{"r":648,"l":-1.1,"h":3.5,"g":"C","o":1},{"r":649,"l":-0.3,"h":2.5,"g":"A","o":1},{"r":650,"l":-0.3,"h":2.5,"g":"C","o":1},{"r":651,"l":-0.3,"h":2.5,"g":"A","o":1},{"r":652,"l":-0.3,"h":2.5,"g":"A"},
{"r":653,"l":-1.0,"h":4.3,"g":"O","o":1},{"r":654,"l":-1.0,"h":5.5,"g":"C"},{"r":655,"l":-0.6,"h":5.5,"g":"A","o":1},{"r":656,"l":-3.4,"h":7.5,"g":"C","o":1},{"r":657,"l":-0.6,"h":5.7,"g":"A"},
{"r":658,"l":-0.5,"h":5.7,"g":"A","o":1},{"r":659,"l":-0.6,"h":5.7,"g":"A"},{"r":660,"l":-2.6,"h":9.4,"g":"A"},{"r":661,"l":-1.5,"h":9.4,"g":"A"},{"r":662,"l":-1.3,"h":9.6,"g":"A","o":1},
{"r":663,"l":-1.5,"h":9.6,"g":"O"}
]},
"vconcat": [
{
"width": 772, "height": 77,
"transform": [{"filter": "datum.r <= 221"}],
"layer": [
{"mark": {"type": "rule", "strokeWidth": 2, "strokeCap": "butt"},
 "encoding": {
  "x": {"field": "r", "type": "quantitative", "scale": {"domain": [-0.65, 221.8], "nice": false, "zero": false}, "axis": {"values": [0, 50, 100, 150, 200], "tickCount": 20, "format": "d", "title": null, "labelOverlap": false}},
  "y": {"field": "l", "type": "quantitative", "scale": {"domain": [-3.78, 0.91], "nice": false, "zero": false}, "axis": {"values": [-3, -2, -1, 0], "tickCount": 20, "format": "d", "title": null, "labelOverlap": false}},
  "y2": {"field": "h"},
  "color": {"field": "g", "type": "nominal", "scale": {"domain": ["A", "S", "C", "H", "N", "O"], "range": ["#F8766D", "#B79F00", "#00BA38", "#00BFC4", "#619CFF", "#F564E3"]},
   "legend": {"orient": "none", "legendX": 139, "legendY": 349, "columns": 3, "title": null, "symbolType": "stroke", "symbolSize": 420, "symbolStrokeWidth": 1.6, "labelOffset": 6, "columnPadding": 6, "rowPadding": 7,
    "labelExpr": "datum.label == 'A' ? 'African\u2212American' : datum.label == 'C' ? 'Caucasian' : datum.label == 'N' ? 'Native American' : datum.label == 'S' ? 'Asian' : datum.label == 'H' ? 'Hispanic' : 'Other'"}}
 }},
{"mark": {"type": "rule", "color": "#B3B3B3", "strokeDash": [5.5, 4.5], "strokeWidth": 1}, "encoding": {"y": {"datum": 0, "type": "quantitative"}}},
{"transform": [{"filter": "datum.o == 1"}],
 "mark": {"type": "point", "filled": true, "color": "black", "size": 13, "opacity": 1},
 "encoding": {
  "x": {"field": "r", "type": "quantitative"},
  "y": {"field": "h", "type": "quantitative"},
  "shape": {"datum": "Reoffend", "type": "nominal", "scale": {"range": ["circle"]}, "legend": {"orient": "none", "legendX": 573, "legendY": 355, "title": null, "symbolSize": 11, "symbolFillColor": "black", "symbolStrokeColor": "black", "labelOffset": 11}}
 }}
]
},
{
"width": 772, "height": 78,
"transform": [{"filter": "datum.r >= 222 && datum.r <= 442"}],
"layer": [
{"mark": {"type": "rule", "strokeWidth": 2, "strokeCap": "butt"},
 "encoding": {
  "x": {"field": "r", "type": "quantitative", "scale": {"domain": [219.9, 443.1], "nice": false, "zero": false}, "axis": {"values": [250, 300, 350, 400], "tickCount": 20, "format": "d", "title": null, "labelOverlap": false}},
  "y": {"field": "l", "type": "quantitative", "scale": {"domain": [-10.45, 11.0], "nice": false, "zero": false}, "axis": {"values": [-10, -5, 0, 5, 10], "tickCount": 20, "format": "d", "title": "Scaled Distance to Hyperplane", "titlePadding": 6, "labelOverlap": false}},
  "y2": {"field": "h"},
  "color": {"field": "g", "type": "nominal"}
 }},
{"mark": {"type": "rule", "color": "#B3B3B3", "strokeDash": [5.5, 4.5], "strokeWidth": 1}, "encoding": {"y": {"datum": 0, "type": "quantitative"}}},
{"transform": [{"filter": "datum.o == 1"}],
 "mark": {"type": "point", "filled": true, "color": "black", "size": 13, "opacity": 1},
 "encoding": {
  "x": {"field": "r", "type": "quantitative"},
  "y": {"field": "h", "type": "quantitative"},
  "shape": {"datum": "Reoffend", "type": "nominal"}
 }}
]
},
{
"width": 772, "height": 79,
"transform": [{"filter": "datum.r >= 443"}],
"layer": [
{"mark": {"type": "rule", "strokeWidth": 2, "strokeCap": "butt"},
 "encoding": {
  "x": {"field": "r", "type": "quantitative", "scale": {"domain": [441.0, 665.4], "nice": false, "zero": false}, "axis": {"values": [450, 500, 550, 600, 650], "tickCount": 20, "format": "d", "title": "Rank of hacking interval midpoint", "titlePadding": 2, "labelOverlap": false}},
  "y": {"field": "l", "type": "quantitative", "scale": {"domain": [-4.2, 10.6], "nice": false, "zero": false}, "axis": {"values": [0, 5, 10], "tickCount": 20, "format": "d", "title": null, "labelOverlap": false}},
  "y2": {"field": "h"},
  "color": {"field": "g", "type": "nominal"}
 }},
{"mark": {"type": "rule", "color": "#B3B3B3", "strokeDash": [5.5, 4.5], "strokeWidth": 1}, "encoding": {"y": {"datum": 0, "type": "quantitative"}}},
{"transform": [{"filter": "datum.o == 1"}],
 "mark": {"type": "point", "filled": true, "color": "black", "size": 13, "opacity": 1},
 "encoding": {
  "x": {"field": "r", "type": "quantitative"},
  "y": {"field": "h", "type": "quantitative"},
  "shape": {"datum": "Reoffend", "type": "nominal"}
 }}
]
}
],
"config": {
 "font": "Liberation Sans",
 "view": {"stroke": "#333333", "strokeWidth": 1.1},
 "axis": {"grid": false, "domain": false, "labelOverlap": false, "tickColor": "#333333", "tickSize": 4, "tickWidth": 1.1, "labelColor": "#4D4D4D", "labelFontSize": 12.8, "labelFont": "Liberation Sans", "labelPadding": 3, "titleFont": "Liberation Sans", "titleFontSize": 16, "titleFontWeight": "normal", "titleColor": "#000000"},
 "legend": {"labelFont": "Liberation Sans", "labelFontSize": 12.6, "labelColor": "#000000"}
}
}
